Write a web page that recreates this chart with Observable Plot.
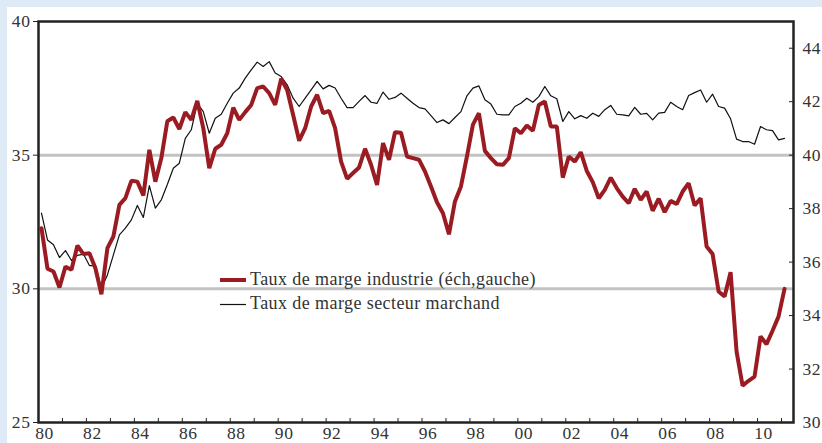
<!DOCTYPE html>
<html><head><meta charset="utf-8">
<script src="https://cdn.jsdelivr.net/npm/d3@7"></script>
<script src="https://cdn.jsdelivr.net/npm/@observablehq/plot@0.6"></script>
<style>
html,body{margin:0;padding:0;background:#deebf7;width:822px;height:443px;overflow:hidden;}
#wrap{position:absolute;left:7px;top:7px;width:815px;height:436px;background:#fff;}
#legend{position:absolute;left:0;top:0;pointer-events:none;}
</style></head>
<body><div id="wrap"></div>
<script>
// Quarterly categories 1980T1 .. 2011T1
const firstYear = 1980;
const seriesNames = ["Taux de marge industrie (éch,gauche)", "Taux de marge secteur marchand"];
// Taux de marge industrie (left axis, %)
const industrie = [
32.27,30.75,30.65,30.05,30.83,30.71,31.62,31.30,31.33,30.77,29.80,31.52,31.96,33.14,33.39,34.04,
34.01,33.49,35.20,34.01,34.89,36.27,36.41,35.98,36.61,36.32,37.03,36.01,34.51,35.24,35.39,35.82,
36.78,36.32,36.61,36.88,37.51,37.57,37.32,36.88,37.86,37.44,36.50,35.54,36.01,36.82,37.26,36.57,
36.66,36.01,34.76,34.12,34.33,34.54,35.24,34.64,33.89,35.45,34.83,35.86,35.84,34.95,34.89,34.83,
34.39,33.83,33.24,32.83,32.04,33.27,33.83,34.95,36.14,36.57,35.16,34.89,34.66,34.64,34.89,36.01,
35.82,36.11,35.91,36.88,37.01,36.07,36.07,34.16,34.95,34.76,35.11,34.41,33.99,33.39,33.70,34.16,
33.77,33.45,33.20,33.74,33.33,33.64,32.92,33.37,32.87,33.29,33.17,33.64,33.95,33.12,33.39,31.58,
31.30,29.90,29.71,30.62,27.65,26.38,26.56,26.72,28.22,27.93,28.43,28.96,30.00];
// Taux de marge secteur marchand (right axis, %)
const marchand = [
37.83,36.83,36.65,36.17,36.43,36.06,36.25,36.30,35.87,35.87,35.02,35.52,36.27,37.02,37.27,37.58,
38.12,37.67,38.86,38.02,38.33,38.90,39.51,39.70,40.63,40.95,41.94,41.63,40.82,41.38,41.53,41.94,
42.32,42.51,42.88,43.19,43.48,43.32,43.50,43.07,42.94,42.63,42.13,41.82,42.13,42.44,42.76,42.48,
42.61,42.51,42.13,41.78,41.78,42.01,42.23,41.98,41.94,42.36,42.09,42.16,42.32,42.13,41.94,41.78,
41.73,41.48,41.22,41.32,41.18,41.41,41.63,42.22,42.51,42.59,42.07,41.91,41.53,41.51,41.51,41.82,
41.94,42.13,41.98,42.19,42.57,42.22,42.11,41.26,41.63,41.36,41.48,41.38,41.57,41.45,41.70,41.86,
41.53,41.51,41.47,41.79,41.53,41.56,41.32,41.57,41.60,41.98,41.82,41.70,42.23,42.34,42.44,41.98,
42.28,41.82,41.76,41.36,40.60,40.51,40.51,40.41,41.07,40.95,40.92,40.57,40.63];
const leftTicks = [25, 30, 35, 40];
const rightTicks = [30, 32, 34, 36, 38, 40, 42, 44];
const gridLevels = [30, 35];
const labelYears = [1980,1982,1984,1986,1988,1990,1992,1994,1996,1998,2000,2002,2004,2006,2008,2010];
const tickYears = d3.range(1981, 2012);
const axisOffset = 5; // right axis = left axis + 5

const quarters = industrie.map((_, i) => `${firstYear + Math.floor(i / 4)}T${i % 4 + 1}`);
const toX = q => +q.slice(0, 4) + (+q.slice(5) - 1) / 4 + 0.125;
const rowsI = quarters.map((q, i) => ({x: toX(q), y: industrie[i]}));
const rowsM = quarters.map((q, i) => ({x: toX(q), y: marchand[i] - axisOffset}));

const red = "#9b1b23";
const font = "'Liberation Serif', 'Times New Roman', serif";

const chart = Plot.plot({
  width: 815, height: 436,
  marginLeft: 31, marginRight: 29, marginTop: 14, marginBottom: 21,
  style: {fontFamily: font, fontSize: "17.5px", color: "#333", background: "transparent", overflow: "visible", letterSpacing: "0.6px"},
  x: {domain: [1980, 2011.5]},
  y: {domain: [25, 40]},
  marks: [
    Plot.ruleY(gridLevels, {stroke: "#c3c3c3", strokeWidth: 3}),
    Plot.line(rowsM, {x: "x", y: "y", stroke: "#111", strokeWidth: 1.2}),
    Plot.line(rowsI, {x: "x", y: "y", stroke: red, strokeWidth: 4, strokeLinejoin: "miter"}),
    Plot.axisY(leftTicks, {anchor: "left", tickSize: 5, tickPadding: 3, stroke: "#222", fill: "#333", label: null}),
    Plot.axisY(rightTicks.map(d => d - axisOffset), {anchor: "right", tickSize: -5, text: null, stroke: "#222", label: null}),
    Plot.axisY(rightTicks.map(d => d - axisOffset), {anchor: "right", tickSize: 0, tickPadding: 9, fill: "#333", tickFormat: d => String(d + axisOffset), label: null}),
    Plot.axisX(tickYears, {anchor: "bottom", tickSize: -4, text: null, stroke: "#222", label: null}),
    Plot.axisX(labelYears.map(y => y + 0.25), {anchor: "bottom", tickSize: 0, tickPadding: 4.5, fill: "#333", tickFormat: d => String(Math.floor(d) % 100).padStart(2, "0"), label: null}),
    Plot.frame({stroke: "#222", strokeWidth: 2.5})
  ]
});
const wrap = document.getElementById("wrap");
wrap.appendChild(chart);

// legend
const lg = d3.select(wrap).append("svg").attr("id", "legend").attr("width", 815).attr("height", 436)
  .style("font-family", font).style("font-size", "18px").style("letter-spacing", "0.42px");
const rows = [{c: red, w: 4, y: 273, name: seriesNames[0]}, {c: "#111", w: 1.2, y: 297.5, name: seriesNames[1]}];
rows.forEach(r => {
  lg.append("line").attr("x1", 213).attr("x2", 239).attr("y1", r.y).attr("y2", r.y).attr("stroke", r.c).attr("stroke-width", r.w);
  lg.append("text").attr("x", 243).attr("y", r.y + 4.5).attr("fill", "#333").text(r.name);
});
</script>
</body></html>
